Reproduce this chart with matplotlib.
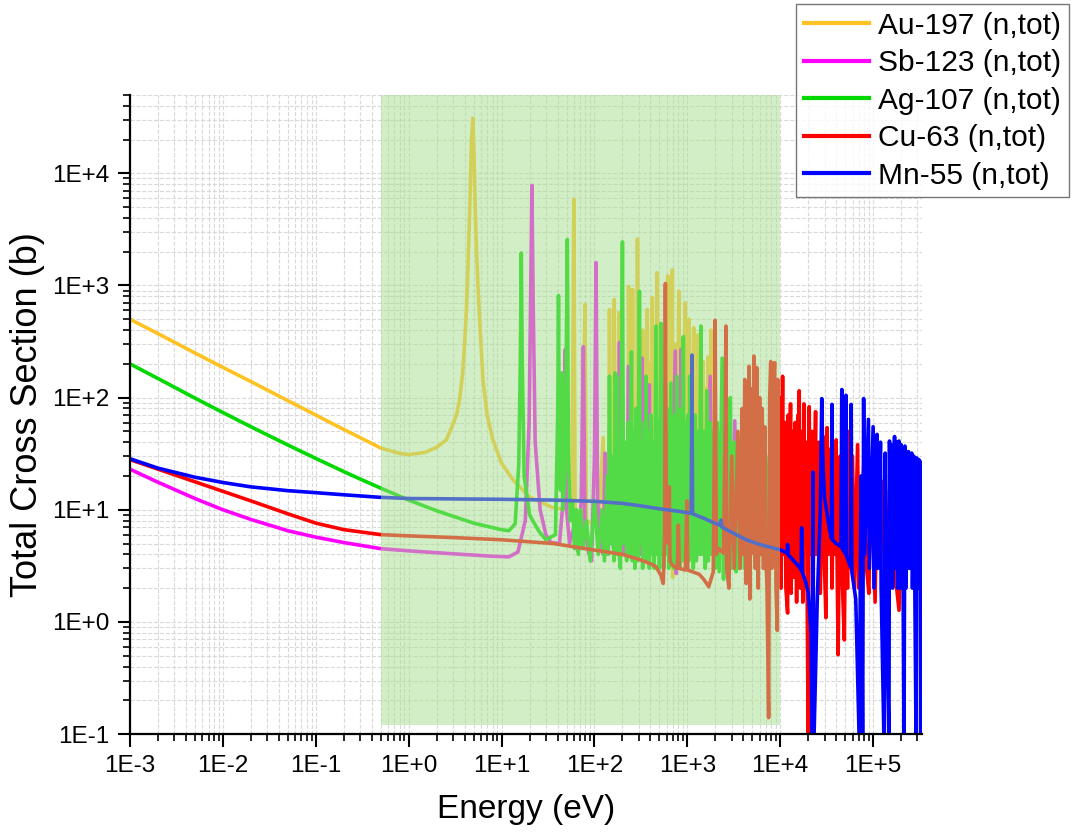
import numpy as np
import matplotlib
matplotlib.use("Agg")
import matplotlib.pyplot as plt
from matplotlib.ticker import LogLocator, FuncFormatter, NullFormatter
from matplotlib.patches import Rectangle

plt.rcParams['font.family'] = ['Liberation Sans', 'DejaVu Sans']

# (energy eV, total cross section b)
au_points = [(1e-3, 500), (2e-3, 372), (5e-3, 250), (1e-2, 186), (2e-2, 139), (5e-2, 94), (0.1, 70),
             (0.2, 52), (0.3, 44), (0.5, 35.5), (0.8, 31.8), (1.0, 31), (1.5, 32.5), (2.0, 36),
             (2.54, 42), (3.0, 58), (3.3, 72), (3.53, 96), (3.8, 160), (4.0, 300), (4.17, 575),
             (4.35, 1500), (4.53, 4460), (4.75, 20000), (4.9, 31000), (5.05, 15000), (5.2, 5000),
             (5.35, 2240), (5.6, 900), (5.8, 500), (6.3, 145), (7.0, 70), (8.06, 42), (10, 26),
             (13.2, 18.6), (20, 13), (35, 10.5), (50, 10), (57, 11), (60, 5900), (62, 9), (75, 9),
             (79, 680), (82, 8), (110, 7), (124, 44), (127, 7), (142, 9), (145, 610), (150, 9),
             (160, 10), (163, 750), (168, 9), (180, 10), (183, 575), (190, 8), (210, 30), (215, 8),
             (228, 10), (233, 980), (240, 10), (252, 15), (257, 920), (265, 9), (285, 15),
             (290, 2600), (300, 12), (325, 10), (330, 400), (340, 10), (350, 120), (358, 12),
             (370, 610), (380, 12), (400, 200), (410, 12), (420, 780), (430, 12), (445, 300),
             (455, 15), (473, 1300), (490, 15), (520, 400), (540, 15), (570, 300), (585, 15),
             (615, 1220), (630, 14), (650, 250), (670, 20), (690, 1380), (695, 2.5), (705, 15),
             (740, 300), (770, 15), (810, 890), (830, 15), (870, 250), (900, 15), (950, 700),
             (970, 16), (1000, 200), (1020, 20), (1040, 500), (1060, 15), (1100, 150), (1130, 15),
             (1170, 420), (1190, 16), (1240, 150), (1270, 16), (1310, 365), (1330, 15),
             (1400, 120), (1440, 16), (1480, 210), (1500, 16), (1580, 120), (1620, 16),
             (1670, 230), (1690, 16), (1750, 100), (1780, 16), (1800, 400), (1850, 16),
             (1950, 80), (2000, 15), (3000, 15), (1e4, 15), (2e4, 14)]

sb_points = [(1e-3, 23), (2e-3, 17.6), (5e-3, 12.6), (1e-2, 10), (2e-2, 8.2), (5e-2, 6.5), (0.1, 5.7),
             (0.2, 5.1), (0.5, 4.5), (1, 4.3), (3, 4.05), (8, 3.85), (12, 3.8), (15, 4.2), (18, 8),
             (19.8, 60), (20.6, 900), (21.2, 7800), (21.8, 900), (23, 40), (26, 10), (30, 6),
             (34, 5.1), (42, 5), (46, 12), (48.6, 270), (50, 10), (54, 5), (60, 7), (66, 4.3),
             (72, 12), (76, 285), (79, 7), (86, 4.2), (93, 3.5), (100, 30), (104, 1600), (108, 12),
             (116, 5), (124, 4), (130, 32), (133, 4), (150, 8), (160, 4.5), (175, 25), (180, 4),
             (186, 310), (192, 5), (205, 4), (215, 30), (222, 4), (233, 190), (240, 5), (260, 20),
             (275, 4), (300, 40), (310, 4), (325, 225), (335, 5), (355, 30), (365, 4), (390, 130),
             (400, 5), (430, 30), (450, 4), (490, 40), (510, 4), (560, 30), (590, 4), (640, 50),
             (680, 4), (740, 260), (760, 2.7), (800, 40), (830, 4), (855, 270), (880, 4), (940, 30),
             (990, 4), (1080, 50), (1150, 4), (1250, 40), (1350, 4), (1500, 35), (1600, 4),
             (1760, 155), (1820, 4), (2000, 40), (2150, 4), (2400, 35), (2600, 4), (2900, 40),
             (3050, 4), (3240, 62), (3400, 3.4), (3600, 30), (3900, 4)]

ag_points = [(1e-3, 200), (2e-3, 148), (5e-3, 99), (1e-2, 73.6), (2e-2, 55), (5e-2, 37.8), (0.1, 28.7),
             (0.2, 21.9), (0.3, 18.8), (0.5, 15.6), (1, 12.2), (2, 9.8), (5, 7.6), (9.5, 6.7), (12, 6.5),
             (14, 7.5), (15.3, 25), (15.9, 200), (16.3, 1950), (16.7, 200), (17.5, 20), (20, 9),
             (25, 6.5), (30, 5.4), (38, 6), (40.3, 80), (41, 815), (41.8, 30), (43, 15),
             (44.5, 166), (45.5, 10), (48, 20), (49.5, 150), (51, 2570), (52.5, 30), (55, 8),
             (58, 12), (61, 4.5), (64, 10), (67, 4), (71, 10), (75, 4.5), (82, 8), (90, 3.5),
             (100, 12), (110, 4), (120, 10), (128, 3.5), (137, 20), (141, 4), (145, 155), (150, 5),
             (158, 30), (162, 3.5), (167, 166), (170, 4), (174, 155), (180, 5), (190, 3),
             (200, 2450), (206, 5), (215, 40), (222, 3.5), (232, 60), (240, 4), (250, 257),
             (256, 3.5), (266, 50), (272, 3), (282, 80), (292, 3.5), (305, 890), (312, 5),
             (322, 40), (330, 3), (345, 60), (352, 4), (360, 155), (368, 3.5), (380, 50), (390, 3),
             (405, 70), (415, 4), (430, 40), (440, 3), (460, 435), (470, 4), (490, 60), (500, 3),
             (520, 460), (530, 4), (545, 100), (555, 3), (580, 130), (595, 4), (615, 60), (630, 3),
             (645, 80), (655, 3.5), (670, 135), (685, 4), (705, 50), (720, 3), (740, 70), (755, 3.5),
             (770, 155), (790, 4), (815, 60), (835, 3), (860, 80), (880, 3.5), (905, 350), (925, 4),
             (960, 60), (985, 3), (1020, 70), (1040, 3.5), (1060, 155), (1090, 4), (1130, 60),
             (1160, 3), (1210, 70), (1250, 3.5), (1300, 50), (1340, 4), (1400, 435), (1440, 4),
             (1500, 50), (1560, 3), (1620, 115), (1680, 3.5), (1760, 60), (1830, 4), (1920, 50),
             (2000, 3), (2100, 60), (2200, 2.8), (2370, 225), (2450, 2.4), (2550, 50), (2650, 3.5),
             (2780, 40), (2900, 100), (3000, 3), (3200, 40), (3350, 2.8), (3500, 45), (3650, 3),
             (3900, 73), (4100, 3), (4400, 40), (4650, 3), (5000, 35), (5400, 3), (6000, 57),
             (6400, 4), (7000, 30), (7500, 6)]

cu_points = [(1e-3, 28), (2e-3, 23), (5e-3, 17.7), (1e-2, 14.6), (2e-2, 12), (5e-2, 9.2), (0.1, 7.6),
             (0.2, 6.65), (0.5, 6.0), (1, 5.85), (3, 5.65), (10, 5.4), (36, 5.0), (95, 4.4),
             (200, 4.0), (305, 3.6), (400, 3.3), (460, 3.1), (520, 2.6), (550, 2.2), (570, 6),
             (576, 150), (580, 1040), (584, 150), (595, 8), (620, 5), (640, 16), (650, 3.5),
             (690, 3.2), (780, 3.0), (800, 7.3), (820, 3), (950, 2.9), (990, 12), (1010, 2.9),
             (1340, 2.66), (1500, 2.4), (1700, 2.06), (1900, 2.8), (1970, 100), (1990, 490),
             (2010, 80), (2050, 4), (2200, 4.5), (2450, 4.1), (2550, 50), (2600, 435), (2650, 3),
             (2800, 2), (3000, 30), (3200, 3), (3500, 50), (3700, 3), (3900, 80), (4000, 4),
             (4150, 145), (4300, 2.2), (4450, 100), (4550, 5), (4600, 190), (4700, 1.6),
             (4850, 120), (5000, 4.1), (5200, 235), (5400, 3), (5600, 185), (5800, 2), (6000, 100),
             (6200, 4), (6400, 80), (6600, 3), (6800, 55), (7000, 4), (7200, 2), (7500, 0.14),
             (7700, 100), (7900, 210), (8100, 3), (8400, 120), (8700, 205), (9000, 2), (9300, 0.84),
             (9400, 145), (9700, 3), (1.0e4, 100), (1.02e4, 2), (1.06e4, 155), (1.08e4, 4),
             (1.12e4, 60), (1.15e4, 2), (1.2e4, 1.2), (1.22e4, 70), (1.25e4, 5), (1.29e4, 88),
             (1.31e4, 1.8), (1.36e4, 50), (1.4e4, 2.5), (1.45e4, 60), (1.5e4, 1.5), (1.55e4, 70),
             (1.58e4, 3), (1.6e4, 115), (1.65e4, 2), (1.7e4, 50), (1.75e4, 1.5), (1.8e4, 88),
             (1.85e4, 5), (1.9e4, 40), (1.95e4, 2), (2.0e4, 0.08), (2.05e4, 83), (2.1e4, 4),
             (2.2e4, 50), (2.25e4, 2), (2.4e4, 75), (2.45e4, 4), (2.6e4, 40), (2.7e4, 1.8),
             (2.9e4, 45), (3.0e4, 3), (3.1e4, 1.09), (3.2e4, 54), (3.3e4, 4), (3.5e4, 35),
             (3.6e4, 2), (3.8e4, 30), (3.9e4, 4), (4.0e4, 42), (4.1e4, 3), (4.2e4, 0.51),
             (4.4e4, 30), (4.6e4, 3), (4.9e4, 0.69), (5.1e4, 28), (5.3e4, 2), (5.5e4, 50),
             (5.7e4, 3), (6.0e4, 30), (6.3e4, 2), (6.8e4, 38), (7.0e4, 2), (8.0e4, 30), (8.5e4, 3),
             (9.0e4, 1.8), (9.5e4, 25), (1.05e5, 1.5), (1.1e5, 20), (1.2e5, 3), (1.3e5, 18),
             (1.4e5, 1.8), (1.5e5, 15), (1.7e5, 3), (1.9e5, 1.27), (2.0e5, 12), (2.5e5, 3),
             (3.0e5, 10), (3.4e5, 4)]

mn_points = [(1e-3, 28.5), (2e-3, 23.5), (5e-3, 19.5), (1e-2, 17.5), (2e-2, 16), (5e-2, 14.8),
             (0.1, 14.2), (0.2, 13.6), (0.5, 12.9), (1, 12.6), (3, 12.5), (10, 12.4), (36, 12.2),
             (100, 11.9), (200, 11.4), (300, 10.9), (500, 10.2), (800, 9.7), (1100, 9.3),
             (1112, 60), (1120, 240), (1128, 40), (1140, 9.2), (1500, 8.4), (2200, 7.3), (2300, 8.1),
             (2350, 7.0), (3000, 6.3), (4300, 5.4), (6000, 4.9), (1e4, 4.4), (1.19e4, 4.1),
             (1.2e4, 4.9), (1.21e4, 4.0), (1.6e4, 3.1), (1.68e4, 2.9), (1.7e4, 6.9), (1.72e4, 2.8),
             (1.9e4, 2.2), (2.0e4, 1.8), (2.15e4, 0.8), (2.2e4, 0.08), (2.25e4, 21.6), (2.3e4, 0.08),
             (2.5e4, 1.5), (2.7e4, 10), (2.8e4, 98), (2.85e4, 40), (2.9e4, 22), (3.0e4, 13),
             (3.2e4, 9), (3.4e4, 6.6), (3.55e4, 5.6), (3.6e4, 87), (3.65e4, 5.4), (4.0e4, 5.0),
             (4.5e4, 4.7), (4.6e4, 118), (4.65e4, 4.5), (5.0e4, 4.1), (5.1e4, 105), (5.15e4, 3.9),
             (5.7e4, 3.1), (5.8e4, 87), (5.9e4, 2.8), (6.5e4, 1.6), (7.1e4, 0.08), (7.4e4, 20),
             (7.7e4, 0.08), (7.9e4, 98), (8.1e4, 4), (8.9e4, 64), (9.1e4, 3), (1.0e5, 55),
             (1.02e5, 2), (1.1e5, 47), (1.12e5, 3), (1.2e5, 40), (1.22e5, 2), (1.31e5, 0.08),
             (1.35e5, 32), (1.38e5, 2), (1.48e5, 0.08), (1.5e5, 41), (1.55e5, 3), (1.6e5, 38),
             (1.62e5, 2), (1.7e5, 45), (1.75e5, 3), (1.8e5, 40), (1.85e5, 2), (1.9e5, 41),
             (1.95e5, 2), (2.0e5, 38), (2.1e5, 3), (2.15e5, 0.08), (2.2e5, 37), (2.25e5, 2),
             (2.4e5, 33), (2.45e5, 3), (2.6e5, 32), (2.65e5, 2), (2.75e5, 30), (2.8e5, 3),
             (2.9e5, 0.08), (2.95e5, 29), (3.0e5, 2), (3.1e5, 28), (3.15e5, 3), (3.2e5, 27),
             (3.25e5, 0.08), (3.3e5, 26), (3.35e5, 1), (3.4e5, 25)]

labels = ['Au-197 (n,tot)', 'Sb-123 (n,tot)', 'Ag-107 (n,tot)', 'Cu-63 (n,tot)', 'Mn-55 (n,tot)']
colors = ['#FFC224', '#FF00FF', '#00D800', '#FF0000', '#0000FF']
series = [au_points, sb_points, ag_points, cu_points, mn_points]

# shaded energy window
band_lo, band_hi, band_bottom, band_top = 0.5, 1e4, 0.12, 5e4

fig = plt.figure(figsize=(10.71, 8.33), dpi=100)
ax = fig.add_axes([0.1214, 0.1188, 0.7395, 0.7672])

for pts, lab, col in zip(series, labels, colors):
    e, xs = zip(*pts)
    ax.plot(e, xs, color=col, lw=2.6, label=lab, zorder=2)

ax.add_patch(Rectangle((band_lo, band_bottom), band_hi - band_lo, band_top - band_bottom,
                       facecolor='#A6DF8E', alpha=0.5, edgecolor='none', zorder=3))

ax.set_xscale('log')
ax.set_yscale('log')
ax.set_xlim(1e-3, 3.36e5)
ax.set_ylim(0.1, 5e4)

fmt = FuncFormatter(lambda v, p: f"1E{int(round(np.log10(v))):+d}")
for axis in (ax.xaxis, ax.yaxis):
    axis.set_major_locator(LogLocator(base=10, numticks=20))
    axis.set_minor_locator(LogLocator(base=10, subs=np.arange(2, 10), numticks=100))
    axis.set_major_formatter(fmt)
    axis.set_minor_formatter(NullFormatter())

ax.tick_params(which='major', length=9, width=1.5, labelsize=17.5, pad=6)
ax.tick_params(which='minor', length=5, width=1.2)
for s in ('top', 'right'):
    ax.spines[s].set_visible(False)
for s in ('left', 'bottom'):
    ax.spines[s].set_linewidth(1.6)

ax.set_axisbelow(True)
ax.grid(which='both', linestyle='--', color='#d9d9d9', linewidth=0.8)

ax.set_xlabel('Energy (eV)', fontsize=24, labelpad=12)
ax.set_ylabel('Total Cross Section (b)', fontsize=26, labelpad=5)

leg = ax.legend(loc='upper right', bbox_to_anchor=(0.998, 0.995), bbox_transform=fig.transFigure,
                fontsize=21.5, frameon=True, fancybox=False, edgecolor='#555555',
                handlelength=2.2, handletextpad=0.3, labelspacing=0.32, borderpad=0.25,
                borderaxespad=0)
leg.get_frame().set_linewidth(1.0)
for line in leg.get_lines():
    line.set_linewidth(3)

fig.savefig('out.png', dpi=100)
